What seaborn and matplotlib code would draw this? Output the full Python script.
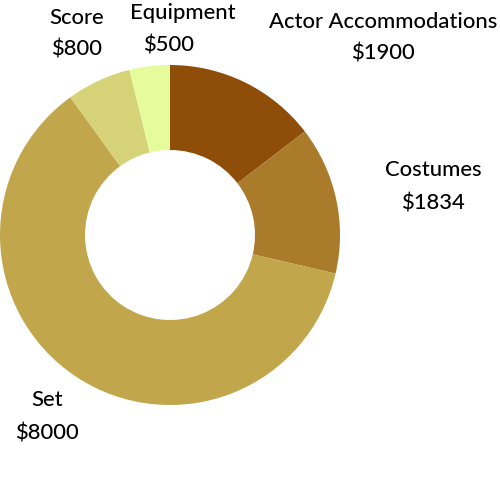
import matplotlib
matplotlib.use("Agg")
import matplotlib.pyplot as plt
import seaborn as sns

categories = ["Actor Accommodations", "Costumes", "Set", "Score", "Equipment"]
values = [1900, 1834, 8000, 800, 500]
colors = ["#8E4D08", "#A97B2A", "#C1A64C", "#D5D277", "#E6FB9B"]

sns.set_theme(style="white")
plt.rcParams['font.family'] = ['Lato', 'DejaVu Sans']

fig = plt.figure(figsize=(5, 5), dpi=100)
ax = fig.add_axes([0.0, 0.19, 0.68, 0.68])
ax.pie(values, colors=colors, startangle=90, counterclock=False,
       wedgeprops=dict(width=0.5, linewidth=0))
ax.set_xlim(-1, 1)
ax.set_ylim(-1, 1)
ax.set_aspect('equal')
ax.axis('off')

# label positions (pixel centers) for name and value lines
label_pos = {
    "Actor Accommodations": ((383, 22), (383, 54)),
    "Costumes": ((433, 170), (433, 203)),
    "Set": ((47, 400), (47, 433)),
    "Score": ((77, 18), (77, 50)),
    "Equipment": ((183, 13), (169, 45)),
}
for cat, val in zip(categories, values):
    (x1, y1), (x2, y2) = label_pos[cat]
    fig.text(x1 / 500, 1 - y1 / 500, cat, ha='center', va='center',
             fontsize=15.8, color='#000000', fontweight='medium')
    fig.text(x2 / 500, 1 - y2 / 500, f"${val}", ha='center', va='center',
             fontsize=15.8, color='#000000', fontweight='medium')

fig.savefig("out.png", dpi=100)
